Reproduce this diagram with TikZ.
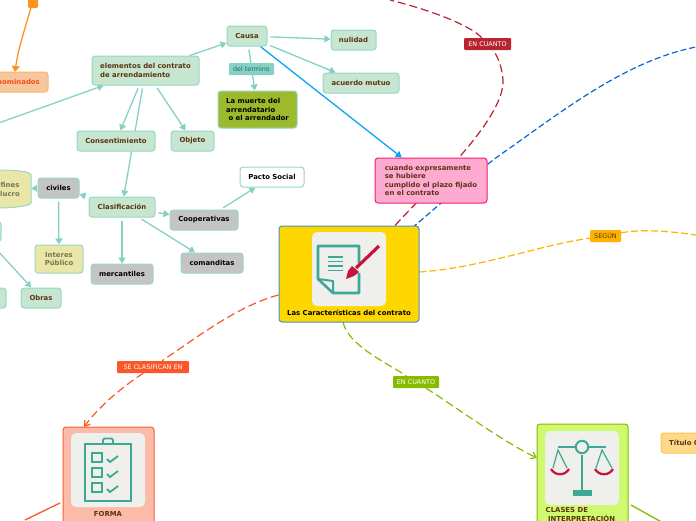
\documentclass[tikz,border=0pt]{standalone}
\usepackage{fontspec}
\setmainfont{DejaVu Sans}
\usetikzlibrary{arrows.meta,backgrounds}
\definecolor{gfill}{HTML}{C6E6CF}
\definecolor{gline}{HTML}{96D6C8}
\definecolor{conn}{HTML}{85D1C5}
\definecolor{brownt}{HTML}{5B3410}
\definecolor{grayf}{HTML}{C4C4C4}
\definecolor{yelf}{HTML}{EAE6A8}
\definecolor{yelt}{HTML}{77774F}
\definecolor{teal1}{HTML}{3FA796}
\definecolor{crim}{HTML}{C8143C}
\definecolor{panel}{HTML}{EFEFEC}
\definecolor{redd}{HTML}{B8242F}
\definecolor{blued}{HTML}{0B62D6}
\definecolor{yeld}{HTML}{FFB300}
\definecolor{orad}{HTML}{F9582A}
\definecolor{grnd}{HTML}{88BB00}
\tikzset{
  txt/.style={font=\fontsize{6.9}{8.6}\selectfont\bfseries,text=brownt,align=left,inner sep=0pt},
  box/.style={txt,draw=gline,fill=gfill,line width=1pt,rounded corners=3pt},
  graybox/.style={box,fill=grayf,text=black},
  yelbox/.style={box,fill=yelf,text=yelt},
  tag/.style={font=\fontsize{6.4}{7}\selectfont,text=white,inner sep=0pt,rounded corners=1pt},
  link/.style={draw=conn,line width=1.3pt,shorten <=3pt,-{Triangle[length=6pt,width=7pt,fill=conn]}},
  panelbox/.style={fill=panel,rounded corners=5pt,inner sep=0pt,minimum width=74pt,minimum height=74pt},
  dashlink/.style={line width=1.2pt,dash pattern=on 8pt off 4pt},
  icon/.style={draw=teal1,line width=2.6pt},
  pen/.style={draw=crim,line width=2.2pt}
}
\begin{document}
\begin{tikzpicture}[x=1pt,y=-1pt]
\useasboundingbox (0,0) rectangle (696,520);
% --- nodes
\node[draw=none,fill={rgb,255:red,255;green,146;blue,30},rounded corners=1.5pt,minimum width=10pt,minimum height=14pt,inner sep=0pt] (top) at (33,1) {};
\node[box,fill={rgb,255:red,246;green,199;blue,158},draw={rgb,255:red,255;green,178;blue,102},minimum width=90pt,minimum height=20pt] (nomi) at (3,82) {};
\node[txt,text={rgb,255:red,240;green,80;blue,20},anchor=east] (nomit) at (40,82) {nominados};
\node[box,minimum width=107pt,minimum height=29pt] (elem) at (145.5,70.5) {elementos del contrato\\de arrendamiento};
\node[box,minimum width=78pt,minimum height=20pt] (cons) at (116,141) {Consentimiento};
\node[box,minimum width=43pt,minimum height=20pt] (obj) at (192.5,141) {Objeto};
\node[box,minimum width=40pt,minimum height=20pt] (causa) at (247,36) {Causa};
\node[box,minimum width=45pt,minimum height=20pt] (nul) at (353.5,40) {nulidad};
\node[box,minimum width=76pt,minimum height=20pt] (acu) at (361,83) {acuerdo mutuo};
\node[box,fill={rgb,255:red,157;green,185;blue,44},text=black,minimum width=79pt,minimum height=37pt] (muerte) at (257.5,109.5) {La muerte del\\arrendatario\\\ o el arrendador};
\node[box,fill=white,text=black,minimum width=64pt,minimum height=20pt] (pacto) at (272,177) {Pacto Social};
\node[graybox,minimum width=68pt,minimum height=20pt] (coop) at (204,220) {Cooperativas};
\node[graybox,minimum width=62pt,minimum height=20pt] (coman) at (212,263) {comanditas};
\node[graybox,minimum width=62pt,minimum height=20pt] (merc) at (122,274) {mercantiles};
\node[box,minimum width=66pt,minimum height=20pt] (clas) at (122,207) {Clasificación};
\node[graybox,minimum width=41pt,minimum height=20pt] (civ) at (58.5,188) {civiles};
\draw[draw=gline,fill=yelf,line width=1pt] (-10,170) -- (0,170) .. controls (12,170) and (31,171) .. (31,175) -- (31,203) .. controls (31,206) and (12,208) .. (0,208) -- (-10,208) -- cycle;
\node[minimum width=62pt,minimum height=38pt,inner sep=0pt] (cyl) at (0,189) {};
\node[txt,text=yelt,align=center] (cylt) at (10,189.5) {fines\\lucro};
\node[yelbox,align=center,minimum width=48pt,minimum height=28pt] (inter) at (59,259) {Interes\\Público};
\node[box,minimum width=40pt,minimum height=20pt] (obras) at (41,298) {Obras};
\node[box,minimum width=52pt,minimum height=20pt] (left1) at (-20,298) {};
\node[box,minimum width=42pt,minimum height=20pt] (left2) at (-20,231.5) {};
\coordinate (offl) at (-60,144);
\node[box,fill={rgb,255:red,255;green,170;blue,208},draw={rgb,255:red,240;green,31;blue,120},minimum width=112pt,minimum height=45pt] (pink) at (431,180.5) {cuando expresamente\\se hubiere\\cumplido el plazo fijado\\en el contrato};
\node[box,fill={rgb,255:red,255;green,215;blue,0},draw={rgb,255:red,74;green,144;blue,200},minimum width=140pt,minimum height=96pt] (main) at (349,274) {};
\node[panelbox] (p1) at (349,269) {};
\node[txt,text=black] (maint) at (349,312.5) {Las Características del contrato};
\node[box,fill={rgb,255:red,251;green,187;blue,168},draw={rgb,255:red,255;green,92;blue,46},minimum width=91pt,minimum height=120pt] (forma) at (108.5,487) {};
\node[panelbox] (p2) at (108,470) {};
\node[txt] (format) at (108,513.5) {FORMA};
\node[box,fill={rgb,255:red,207;green,250;blue,110},draw={rgb,255:red,136;green,187;blue,0},minimum width=91pt,minimum height=120pt] (clases) at (582.5,484) {};
\node[panelbox] (p3) at (582,468) {};
\node[txt,anchor=north west] (clast) at (545.5,507.5) {CLASES DE\\\ INTERPRETACIÓN};
\node[box,fill={rgb,255:red,255;green,217;blue,138},draw={rgb,255:red,255;green,195;blue,77},minimum width=80pt,minimum height=20pt] (tit) at (701,443) {};
\node[txt,anchor=west] (titt) at (669,443) {Título C};
\coordinate (offr) at (696,47);
\coordinate (offy) at (696,235);
\coordinate (offt) at (390,0);
\coordinate (offf) at (25,520);
\coordinate (offc) at (665,524);
% --- tags
\node[tag,fill=redd,minimum width=47pt,minimum height=12pt] (t1) at (487.5,44) {EN CUANTO};
\node[tag,fill=yeld,text=brownt,minimum width=31pt,minimum height=12pt] (t2) at (605.5,236) {SEGÚN};
\node[tag,fill=orad,minimum width=72pt,minimum height=12pt] (t3) at (153,367) {SE CLASIFICAN EN};
\node[tag,fill=grnd,minimum width=46pt,minimum height=12pt] (t4) at (416,382) {EN CUANTO};
\node[tag,fill=conn,text={rgb,255:red,40;green,105;blue,100},minimum width=45pt,minimum height=12pt] (t5) at (251.5,69) {del termino};
% --- connectors
\begin{scope}[on background layer]
\draw[link] (elem) -- (cons);
\draw[link] (elem) -- (obj);
\draw[link] (elem) -- (clas);
\draw[link,shorten <=0pt] (elem) -- (causa);
\draw[link,shorten <=0pt] (offl) -- (elem);
\draw[link] (causa) -- (nul);
\draw[link] (causa) -- (acu);
\draw[link] (causa) -- (muerte);
\draw[draw={rgb,255:red,10;green,165;blue,240},line width=1.3pt,-{Triangle[length=6pt,width=7pt]}] (causa) -- (pink);
\draw[link] (clas) -- (civ);
\draw[link] (clas) -- (coop);
\draw[link] (clas) -- (coman);
\draw[link] (clas) -- (merc);
\draw[link] (coop) -- (pacto);
\draw[link] (civ) -- (cyl);
\draw[link] (civ) -- (inter);
\draw[link,shorten <=0pt] (left2) -- (obras);
\draw[draw={rgb,255:red,255;green,146;blue,30},line width=1.3pt,-{Triangle[length=6pt,width=8pt]}] (top) .. controls (25,28) and (18,50) .. (15,72);
\draw[redd,dashlink] (main.north) ++(46,0) .. controls (425,192) and (505,120) .. (503,80) .. controls (502,66) and (497,55) .. (t1) .. controls (470,25) and (430,10) .. (offt);
\draw[blued,dashlink,dash pattern=on 6pt off 3pt] (412,228) .. controls (445,200) and (480,168) .. (510,148) .. controls (570,105) and (630,60) .. (offr);
\draw[yeld,dashlink,dash pattern=on 7pt off 3pt] (main.east) ++(0,-2) .. controls (480,268) and (540,245) .. (t2) .. controls (640,229) and (670,231) .. (offy);
\draw[orad,dashlink,-{Straight Barb[length=5pt,width=7pt]}] (main.west) ++(0,21) .. controls (240,305) and (200,335) .. (t3) .. controls (125,385) and (100,405) .. (84,427);
\draw[grnd,dashlink,-{Straight Barb[length=5pt,width=7pt]}] (343,322) .. controls (348,345) and (385,362) .. (t4) .. controls (450,403) and (500,440) .. (537,458);
\draw[orad,line width=1.3pt] (60,503) -- (offf);
\draw[grnd,line width=1.3pt] (631,505) -- (offc);
\end{scope}
% --- icon: contract
\draw[icon,line join=round] (359,263) -- (359,246) -- (318,246) -- (318,279) -- (333,293) -- (359,293) -- (359,273);
\draw[icon,line width=2pt,line join=round] (318,279) -- (333,281) -- (333,293);
\draw[teal1,line width=1.2pt] (328,257) -- (343,257) (328,261.5) -- (343,261.5) (328,266) -- (343,266) (328,270.5) -- (343,270.5);
\draw[crim,line width=3.2pt] (379,246) -- (356,268);
\fill[crim] (352,266) -- (359,272) -- (354,276) -- (346,279) -- (348,271) -- cycle;
% --- icon: checklist
\draw[icon] (85,444) rectangle (131,501);
\draw[icon,line width=1.8pt,rounded corners=2pt] (103,444) -- (103,438.5) -- (113,438.5) -- (113,444);
\foreach \yy in {453,468,483}{
  \draw[icon,line width=1.8pt] (92,\yy) rectangle (102,\yy+9);
  \draw[teal1,line width=1.8pt] (107,\yy+6) -- (110,\yy+9) -- (118,\yy+3);
}
% --- icon: scales
\draw[icon,line width=2pt] (582,447) circle (6.2pt);
\draw[icon,line width=2pt] (558,447) -- (575.8,447) (588.2,447) -- (606,447);
\draw[icon,line width=2.2pt] (582,455) -- (582,490);
\fill[teal1] (573,490) rectangle (592,496);
\draw[teal1,line width=1.2pt] (553,468) -- (558,450) -- (567,468) (596,468) -- (602,450) -- (612,468);
\draw[pen] (551,469) .. controls (555,476) and (565,476) .. (569,469);
\draw[pen] (595,469) .. controls (599,476) and (609,476) .. (613,469);
\end{tikzpicture}
\end{document}
